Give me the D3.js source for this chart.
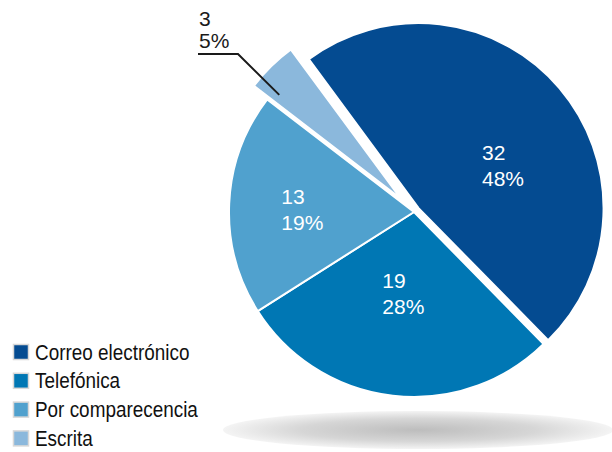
<!DOCTYPE html>
<html>
<head>
<meta charset="utf-8">
<script src="https://cdn.jsdelivr.net/npm/d3@7"></script>
<style>
  body { margin: 0; background: #fff; }
  svg text { font-family: "Liberation Sans", "Arial", sans-serif; }
</style>
</head>
<body>
<div id="chart"></div>
<script>
// data
var categories = ["Correo electrónico", "Telefónica", "Por comparecencia", "Escrita"];
var values = [32, 19, 13, 3];
var percents = [48, 28, 19, 5];

var colors = ["#044b91", "#0077b4", "#50a1ce", "#8bb8dc"];
// how far each slice is pulled out of the pie
var explode = [6, 0, 0, 19];

var width = 612, height = 452;
var cx = 414, cy = 212, radius = 185;

var svg = d3.select("#chart").append("svg")
  .attr("width", width)
  .attr("height", height);

//////////////
// SHADOW   //
//////////////
var grad = svg.append("defs").append("radialGradient")
  .attr("id", "shadow");
grad.append("stop").attr("offset", "0%").attr("stop-color", "#bdbdbd");
grad.append("stop").attr("offset", "60%").attr("stop-color", "#d6d6d6");
grad.append("stop").attr("offset", "100%").attr("stop-color", "#f4f4f4");

svg.append("ellipse")
  .attr("cx", 418).attr("cy", 430)
  .attr("rx", 195).attr("ry", 19)
  .attr("fill", "url(#shadow)");

//////////
// PIE  //
//////////
var start = -36.4 * Math.PI / 180;
var pie = d3.pie().sort(null)
  .startAngle(start)
  .endAngle(start + 2 * Math.PI);

var arcs = pie(values).map(function(d, i) {
  d.i = i;
  return d;
});

var arc = d3.arc().innerRadius(0).outerRadius(radius);

var slices = svg.append("g")
  .attr("transform", "translate(" + cx + "," + cy + ")");

function shift(d) {
  var a = (d.startAngle + d.endAngle) / 2;
  var off = explode[d.i];
  return [Math.sin(a) * off, -Math.cos(a) * off];
}

slices.selectAll("path")
  .data(arcs)
  .enter().append("path")
  .attr("d", arc)
  .attr("transform", function(d) { var s = shift(d); return "translate(" + s[0] + "," + s[1] + ")"; })
  .attr("fill", function(d) { return colors[d.i]; })
  .attr("stroke", "#fff")
  .attr("stroke-width", 2);

// labels inside the slices (left aligned, value over percent)
var labelArc = d3.arc().innerRadius(radius * 0.55).outerRadius(radius * 0.55);
var labelNudge = [[-14, 18], [-20, -25], [-31, -3]];

arcs.slice(0, 3).forEach(function(d) {
  var c = labelArc.centroid(d);
  var s = shift(d);
  var x = c[0] + s[0] + labelNudge[d.i][0];
  var y = c[1] + s[1] + labelNudge[d.i][1];
  var t = slices.append("text")
    .attr("fill", "#fff")
    .attr("font-size", 21)
    .attr("x", x).attr("y", y);
  t.append("tspan").attr("x", x).text(values[d.i]);
  t.append("tspan").attr("x", x).attr("dy", 26).text(percents[d.i] + "%");
});

// outside label for the small slice
var small = arcs[3];
var ss = shift(small);
var ptIn = d3.arc().innerRadius(radius * 0.86).outerRadius(radius * 0.86).centroid(small);
var p0 = [cx + ptIn[0] + ss[0] - 10, cy + ptIn[1] + ss[1] + 10];
svg.append("polyline")
  .attr("points", [p0, [238, 54], [198, 54]].map(function(p) { return p.join(","); }).join(" "))
  .attr("fill", "none")
  .attr("stroke", "#1a1a1a")
  .attr("stroke-width", 2);

var st = svg.append("text")
  .attr("fill", "#1a1a1a")
  .attr("font-size", 21)
  .attr("x", 199).attr("y", 26);
st.append("tspan").attr("x", 199).text(values[3]);
st.append("tspan").attr("x", 199).attr("dy", 22).text(percents[3] + "%");

////////////
// LEGEND //
////////////
var legend = svg.append("g")
  .attr("transform", "translate(13,344)");

var rows = legend.selectAll("g")
  .data(categories)
  .enter().append("g")
  .attr("transform", function(d, i) { return "translate(0," + (i * 28.8) + ")"; });

rows.append("rect")
  .attr("x", 0.5).attr("y", 0.5)
  .attr("width", 15).attr("height", 15)
  .attr("fill", function(d, i) { return colors[i]; })
  .attr("stroke", "#d8d8d8")
  .attr("stroke-width", 1.5);

// narrow the text to match the condensed face of the original
rows.append("text")
  .attr("transform", "translate(22,15.5) scale(0.86,1)")
  .attr("font-size", 22)
  .attr("fill", "#111")
  .text(function(d) { return d; });
</script>
</body>
</html>
